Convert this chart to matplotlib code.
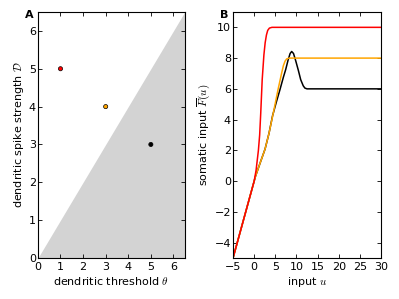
import matplotlib
matplotlib.use('Agg')
import matplotlib.pyplot as plt

plt.rcParams['mathtext.fontset'] = 'cm'
plt.rcParams['font.size'] = 8
plt.rcParams['xtick.direction'] = 'in'
plt.rcParams['ytick.direction'] = 'in'
plt.rcParams['xtick.top'] = True
plt.rcParams['ytick.right'] = True

# panel A: (theta, D) pairs
theta = [1, 3, 5]
D = [5, 4, 3]
point_colors = ['red', 'orange', 'black']
region_edge = [0, 6.5]

# panel B: somatic input curves
u_red = [-5, 0, 0.45, 1.0, 1.3, 1.55, 1.9, 2.3, 2.6, 2.9, 3.2, 3.6, 4.2, 30]
F_red = [-5, 0, 0.7, 2.0, 3.0, 4.4, 6.6, 8.2, 9.0, 9.5, 9.8, 9.95, 10, 10]

u_orange = [-5, 0, 0.3, 1.5, 2.57, 3.5, 4.7, 5.6, 6.5, 6.9, 7.3, 7.7, 8.3, 30]
F_orange = [-5, 0, 0.3, 1.25, 2.08, 3.1, 4.66, 5.9, 7.03, 7.5, 7.8, 7.95, 8, 8]

u_black = [-5, 0, 0.3, 1.5, 2.57, 3.5, 4.35, 5.2, 6.1, 6.9, 7.45, 8.0, 8.5, 8.87,
           9.3, 9.8, 10.45, 11.0, 11.6, 12.0, 12.5, 30]
F_black = [-5, 0, 0.3, 1.25, 2.08, 3.1, 4.25, 5.1, 5.95, 6.75, 7.25, 7.85, 8.3, 8.43,
           8.3, 7.85, 7.2, 6.6, 6.2, 6.05, 6, 6]

fig = plt.figure(figsize=(3.99, 2.99), dpi=100)

ax1 = fig.add_axes([0.095, 0.137, 0.368, 0.823])
ax1.fill_between(region_edge, region_edge, 0, color='#d3d3d3', linewidth=0)
ax1.scatter(theta, D, c=point_colors, s=9, edgecolors='black', linewidths=0.5, zorder=3)
ax1.set_xlim(0, 6.5)
ax1.set_ylim(0, 6.5)
ax1.set_xticks(range(0, 7))
ax1.set_yticks(range(0, 7))
ax1.set_xlabel(r'dendritic threshold $\theta$', labelpad=2.5)
ax1.set_ylabel(r'dendritic spike strength $\mathcal{D}$', labelpad=2)

ax2 = fig.add_axes([0.584, 0.137, 0.371, 0.823])
ax2.plot(u_black, F_black, color='black', lw=1.1)
ax2.plot(u_orange, F_orange, color='orange', lw=1.1)
ax2.plot(u_red, F_red, color='red', lw=1.1)
ax2.set_xlim(-5, 30)
ax2.set_ylim(-5, 11)
ax2.set_xticks(range(-5, 31, 5))
ax2.set_yticks(range(-4, 11, 2))
ax2.set_xlabel(r'input $u$', labelpad=2.5)
ax2.set_ylabel(r'somatic input $\overline{F}(u)$', labelpad=1)

for ax in (ax1, ax2):
    ax.tick_params(length=3, width=0.6, pad=2.5)
    ax.tick_params(axis='y', pad=1.5)
    for s in ax.spines.values():
        s.set_linewidth(0.8)

fig.text(0.062, 0.94, 'A', weight='bold', fontsize=8)
fig.text(0.551, 0.94, 'B', weight='bold', fontsize=8)

fig.savefig('out.png', dpi=100)
